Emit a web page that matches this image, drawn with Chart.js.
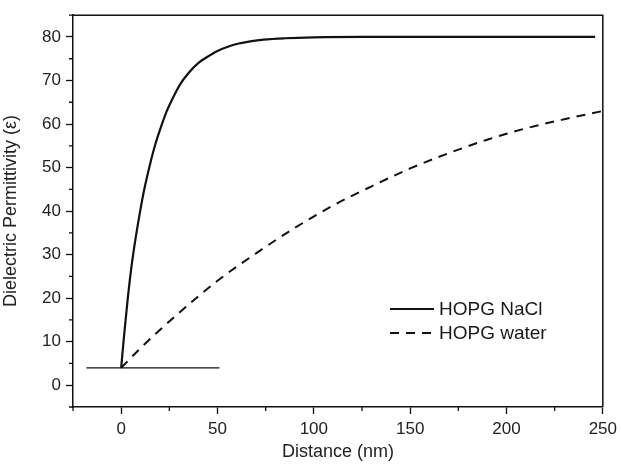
<!DOCTYPE html>
<html>
<head>
<meta charset="utf-8">
<script src="https://cdn.jsdelivr.net/npm/chart.js@4.4.1/dist/chart.umd.min.js"></script>
<style>
  html, body { margin: 0; padding: 0; background: #fff; }
  #wrap { width: 622px; height: 466px; }
</style>
</head>
<body>
<div id="wrap"><canvas id="grafico" width="622" height="466"></canvas></div>
<script>
// --- datos ---
const naclX = [0, 1.6, 3.3, 5.4, 7.5, 9.7, 12, 14.9, 17.5, 20.1, 23.5, 27.3, 31, 35.1, 40, 44.6, 50, 55, 61, 67, 74, 85, 100, 125, 150, 175, 200, 225, 246];
const naclY = [4, 11.8, 19.4, 27.4, 33.8, 39.6, 45.0, 50.6, 55.0, 58.6, 62.8, 66.4, 69.4, 71.8, 74.0, 75.4, 76.8, 77.7, 78.5, 79.0, 79.4, 79.7, 79.9, 80, 80, 80, 80, 80, 80];
const waterX = [0, 10, 30, 50, 70, 90, 110, 130, 150, 170, 190, 210, 230, 250];
const waterY = [4, 8.5, 16.6, 24.0, 30.3, 36.1, 41.3, 45.7, 49.8, 53.3, 56.4, 59.0, 61.1, 63.0];
const baseX = [-18, 51];
const baseY = [4, 4];

const xMajor = [0, 50, 100, 150, 200, 250];
const xMinor = [-25, 25, 75, 125, 175, 225];
const yMajor = [0, 10, 20, 30, 40, 50, 60, 70, 80];
const yMinor = [-5, 5, 15, 25, 35, 45, 55, 65, 75, 85];

const serieNacl = 'HOPG NaCl';
const serieWater = 'HOPG water';

function puntos(xs, ys) {
    return xs.map((x, i) => ({ x: x, y: ys[i] }));
}

const FUENTE = "'Liberation Sans', Arial, sans-serif";
const NEGRO = '#111';

// marco superior/derecho + ticks menores + leyenda dentro del area
const pluginMarco = {
    id: 'marco',
    afterDraw(chart) {
        const ctx = chart.ctx;
        const a = chart.chartArea;
        const sx = chart.scales.x;
        const sy = chart.scales.y;
        ctx.save();
        ctx.strokeStyle = NEGRO;
        ctx.lineWidth = 1.5;
        ctx.beginPath();
        ctx.moveTo(a.left, a.top);
        ctx.lineTo(a.right, a.top);
        ctx.lineTo(a.right, a.bottom);
        ctx.stroke();

        // ticks menores
        ctx.lineWidth = 1.3;
        ctx.beginPath();
        xMinor.forEach(v => {
            const px = sx.getPixelForValue(v);
            ctx.moveTo(px, a.bottom);
            ctx.lineTo(px, a.bottom + 4);
        });
        yMinor.forEach(v => {
            const py = sy.getPixelForValue(v);
            ctx.moveTo(a.left, py);
            ctx.lineTo(a.left - 4, py);
        });
        ctx.stroke();

        // leyenda
        const filas = chart.data.datasets.filter(d => d.label);
        ctx.font = '19px ' + FUENTE;
        ctx.fillStyle = '#1a1a1a';
        ctx.textBaseline = 'middle';
        filas.forEach((d, i) => {
            const y = 309 + i * 24;
            ctx.strokeStyle = NEGRO;
            ctx.lineWidth = 2;
            ctx.setLineDash(d.borderDash || []);
            ctx.beginPath();
            ctx.moveTo(390, y);
            ctx.lineTo(434, y);
            ctx.stroke();
            ctx.setLineDash([]);
            ctx.fillText(d.label, 439, y + 1);
        });
        ctx.restore();
    }
};

const ctx = document.getElementById('grafico').getContext('2d');
const chart = new Chart(ctx, {
    type: 'line',
    data: {
        datasets: [
            {
                label: serieNacl,
                data: puntos(naclX, naclY),
                borderColor: NEGRO,
                borderWidth: 2.2,
                pointRadius: 0,
                cubicInterpolationMode: 'monotone'
            },
            {
                label: serieWater,
                data: puntos(waterX, waterY),
                borderColor: NEGRO,
                borderWidth: 2,
                borderDash: [9, 7],
                pointRadius: 0,
                cubicInterpolationMode: 'monotone'
            },
            {
                label: '',
                data: puntos(baseX, baseY),
                borderColor: NEGRO,
                borderWidth: 1.3,
                pointRadius: 0
            }
        ]
    },
    options: {
        responsive: false,
        animation: false,
        devicePixelRatio: 1,
        layout: { padding: { top: 14, right: 17, left: 0, bottom: 0 } },
        plugins: {
            legend: { display: false },
            tooltip: { enabled: false }
        },
        scales: {
            x: {
                type: 'linear',
                min: -25,
                max: 250,
                afterBuildTicks: s => { s.ticks = xMajor.map(v => ({ value: v })); },
                afterFit: s => { s.height = 59; },
                border: { display: true, color: NEGRO, width: 1.5 },
                grid: { drawOnChartArea: false, drawTicks: true, tickLength: 7, tickColor: NEGRO, tickWidth: 1.3 },
                ticks: { color: '#222', padding: 5, maxRotation: 0, font: { family: FUENTE, size: 17 } },
                title: { display: true, text: 'Distance (nm)', color: '#222', padding: { top: 2, bottom: 3 }, font: { family: FUENTE, size: 18 } }
            },
            y: {
                type: 'linear',
                min: -5,
                max: 85,
                afterBuildTicks: s => { s.ticks = yMajor.map(v => ({ value: v })); },
                afterFit: s => { s.width = 73; },
                border: { display: true, color: NEGRO, width: 1.5 },
                grid: { drawOnChartArea: false, drawTicks: true, tickLength: 7, tickColor: NEGRO, tickWidth: 1.3 },
                ticks: { color: '#222', padding: 5, font: { family: FUENTE, size: 17 } },
                title: { display: true, text: 'Dielectric Permittivity (\u03b5)', color: '#222', padding: { top: 0, bottom: 4 }, font: { family: FUENTE, size: 18 } }
            }
        }
    },
    plugins: [pluginMarco]
});
</script>
</body>
</html>
